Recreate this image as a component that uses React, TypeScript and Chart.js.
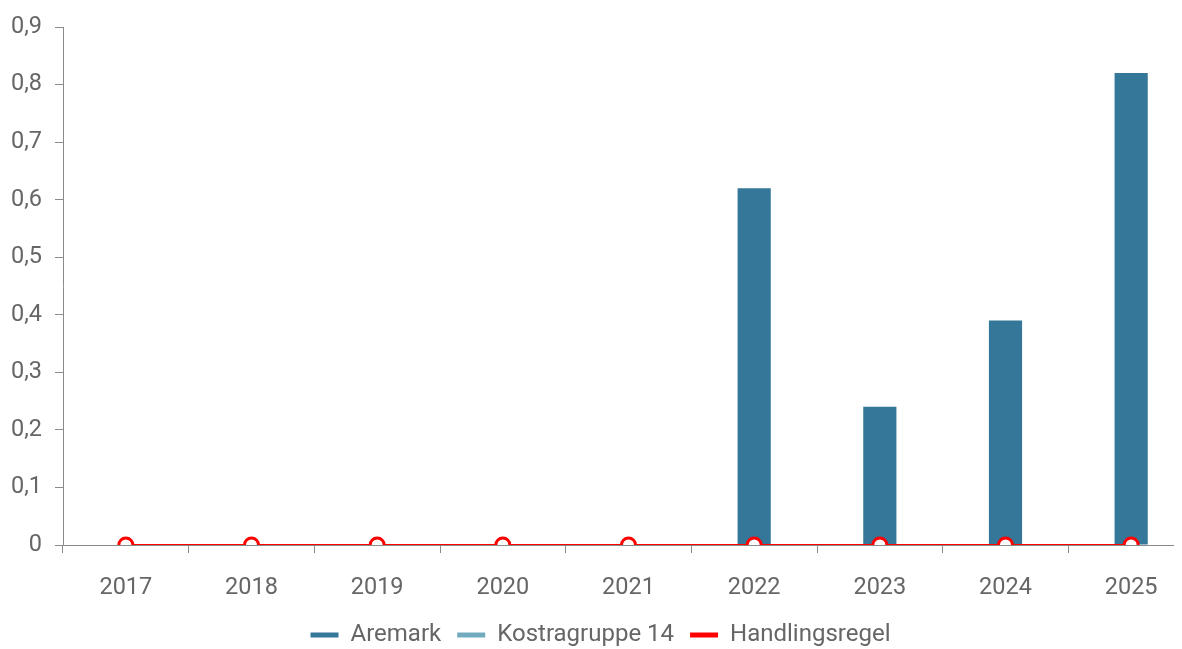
import React, { useEffect, useRef } from "react";
import { Chart, registerables } from "chart.js";

Chart.register(...registerables);

const categories = ["2017", "2018", "2019", "2020", "2021", "2022", "2023", "2024", "2025"];
const aremark = [null, null, null, null, null, 0.62, 0.24, 0.39, 0.82];
const kostragruppe14 = [null, null, null, null, null, null, null, null, null];
const handlingsregel = [0, 0, 0, 0, 0, 0, 0, 0, 0];

const AREMARK_COLOR = "#357798";
const KOSTRA_COLOR = "#72aabf";
const RED = "#ff0000";
const TEXT = "#666666";
const AXIS = "#8a8a8a";
const FONT = 23.5;
const LEGEND_FONT = 24;
const FAMILY = "Roboto, 'Liberation Sans', Arial, sans-serif";

export default function App() {
  const ref = useRef<HTMLCanvasElement | null>(null);

  useEffect(() => {
    document.documentElement.style.overflow = "hidden";
    const ctx = ref.current!.getContext("2d")!;
    const chart = new Chart(ctx, {
      type: "bar",
      data: {
        labels: categories,
        datasets: [
          {
            type: "bar",
            label: "Aremark",
            data: aremark as any,
            backgroundColor: AREMARK_COLOR,
            borderColor: AREMARK_COLOR,
            borderWidth: 0,
            categoryPercentage: 0.8,
            barPercentage: 0.33,
            order: 2,
          },
          {
            type: "line",
            label: "Kostragruppe 14",
            data: kostragruppe14 as any,
            backgroundColor: KOSTRA_COLOR,
            borderColor: KOSTRA_COLOR,
            borderWidth: 3,
            order: 1,
          },
          {
            type: "line",
            label: "Handlingsregel",
            data: handlingsregel,
            borderColor: RED,
            backgroundColor: "#ffffff",
            borderWidth: 2,
            pointRadius: 7,
            pointBorderWidth: 3,
            pointBackgroundColor: "#ffffff",
            pointBorderColor: RED,
            order: 0,
          },
        ],
      },
      options: {
        animation: false,
        responsive: false,
        maintainAspectRatio: false,
        devicePixelRatio: 1,
        layout: { padding: { top: 0, right: 0, left: 0, bottom: 0 } },
        plugins: {
          tooltip: { enabled: false },
          legend: {
            position: "bottom",
            labels: {
              color: TEXT,
              font: { size: LEGEND_FONT, family: FAMILY },
              boxWidth: 28,
              boxHeight: 5,
              padding: 16,
              sort: (a: any, b: any) => a.datasetIndex - b.datasetIndex,
              generateLabels: (chart: any) => {
                const items = Chart.defaults.plugins.legend.labels.generateLabels(chart);
                return items.map((it: any) => {
                  const ds = chart.data.datasets[it.datasetIndex];
                  return { ...it, fillStyle: ds.borderColor, strokeStyle: ds.borderColor, lineWidth: 0 };
                });
              },
            },
          },
        },
        scales: {
          x: {
            grid: { display: true, drawOnChartArea: false, drawTicks: true, tickLength: 8, color: AXIS, offset: true },
            border: { display: true, color: AXIS, width: 1 },
            ticks: { color: TEXT, font: { size: FONT, family: FAMILY }, padding: 21 },
            afterFit: (scale: any) => {
              scale.height = 62;
              scale.paddingRight = 0;
              scale.paddingLeft = 0;
            },
          },
          y: {
            min: 0,
            max: 0.9,
            grid: { display: true, drawOnChartArea: false, drawTicks: true, tickLength: 8, color: AXIS },
            border: { display: true, color: AXIS, width: 1 },
            ticks: {
              stepSize: 0.1,
              color: TEXT,
              font: { size: FONT, family: FAMILY },
              padding: 13,
              callback: (v: any) => {
                const n = Math.round(Number(v) * 10) / 10;
                return String(n).replace(".", ",");
              },
            },
            afterFit: (scale: any) => {
              scale.width = 66;
              scale.paddingTop = 19;
            },
          },
        },
      },
    });
    return () => chart.destroy();
  }, []);

  return (
    <div>
      <canvas ref={ref} width={1207} height={649} style={{ display: "block", marginLeft: -11, width: 1207, height: 649 }} />
    </div>
  );
}
